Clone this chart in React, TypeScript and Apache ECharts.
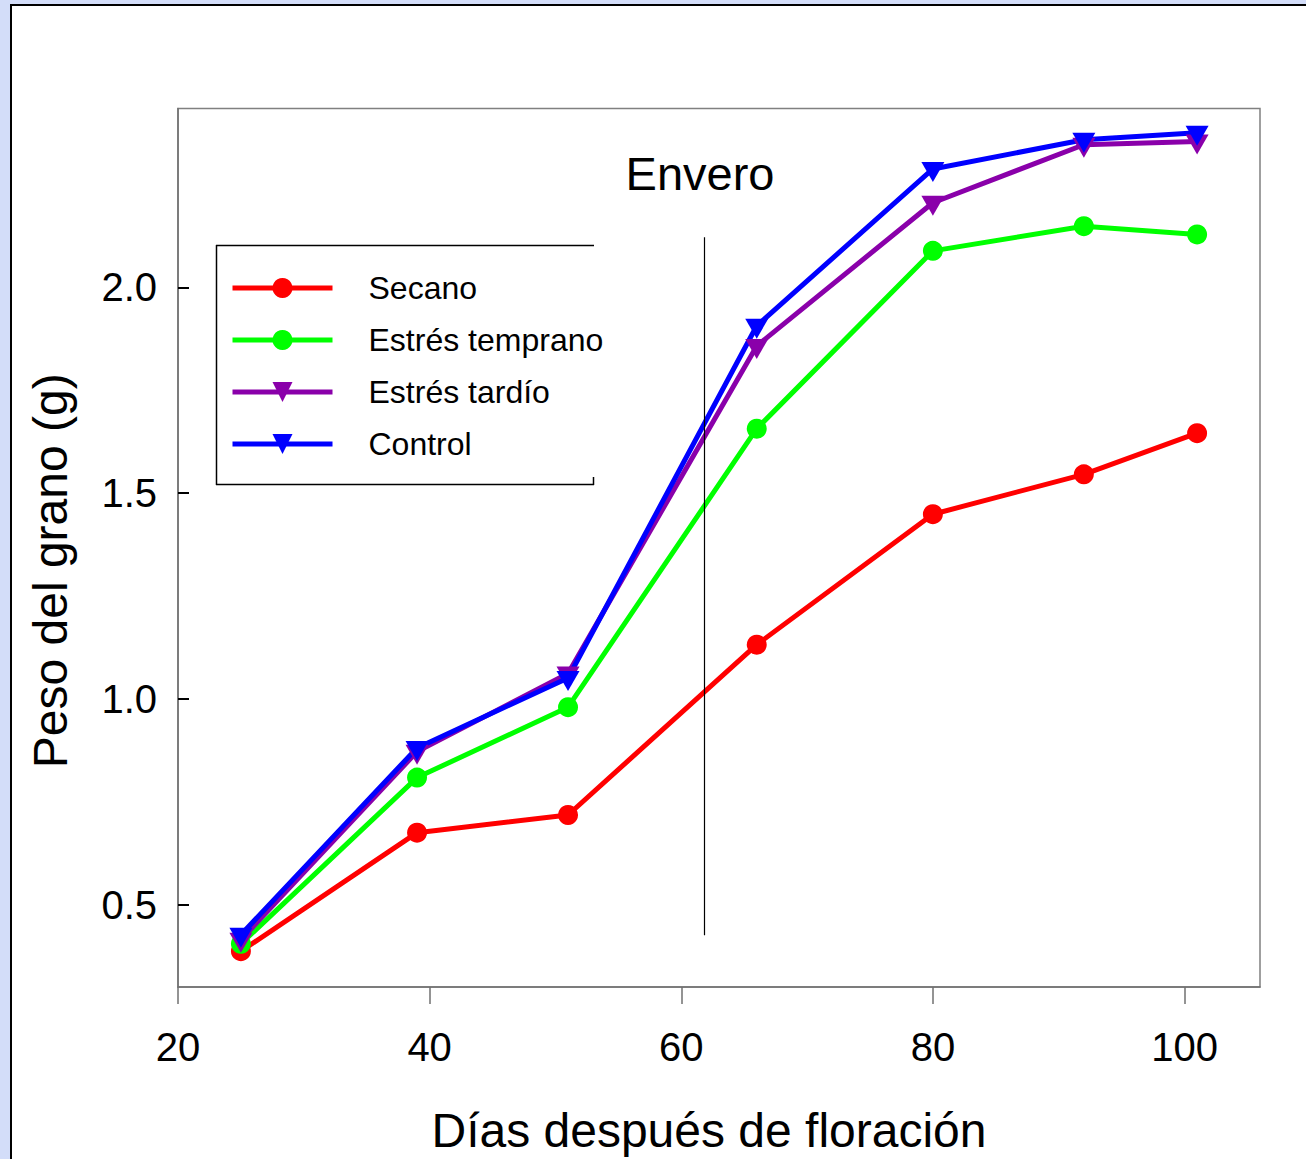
import React, { useEffect, useRef } from "react";
import * as echarts from "echarts";

const dias = [25, 39, 51, 66, 80, 92, 101];
const secano = [0.387, 0.675, 0.718, 1.132, 1.449, 1.546, 1.646];
const estresTemprano = [0.405, 0.809, 0.98, 1.657, 2.089, 2.149, 2.129];
const estresTardio = [0.415, 0.872, 1.062, 1.858, 2.206, 2.347, 2.355];
const control = [0.427, 0.881, 1.051, 1.907, 2.288, 2.359, 2.376];

const xTicks = [20, 40, 60, 80, 100];
const yTicks = [0.5, 1.0, 1.5, 2.0];
const enveroDia = 61.8;
const enveroRange = [0.426, 2.122];

const FONT = "'Liberation Sans', Arial, Helvetica, sans-serif";

function pairs(ys: number[]) {
  return dias.map((d, i) => [d, ys[i]]);
}

export default function App() {
  const ref = useRef<HTMLDivElement>(null);
  useEffect(() => {
    if (!ref.current) return;
    const chart = echarts.init(ref.current, undefined, { renderer: "svg" });
    const circle = { symbol: "circle", symbolSize: 20 };
    const tri = { symbol: "triangle", symbolRotate: 180, symbolSize: [23, 20], symbolOffset: [0, 3] };
    const mk = (name: string, color: string, ys: number[], sym: any, extra: any = {}) => ({
      name,
      type: "line",
      data: pairs(ys),
      ...sym,
      lineStyle: { color, width: 5 },
      itemStyle: { color },
      ...extra,
    });
    chart.setOption({
      animation: false,
      backgroundColor: "#ffffff",
      grid: {
        show: true,
        left: 178,
        top: 108.5,
        width: 1082,
        height: 882,
        borderColor: "#808080",
        borderWidth: 1.5,
      },
      xAxis: {
        type: "value",
        min: 20,
        max: 106,
        name: "Días después de floración",
        nameLocation: "middle",
        nameGap: 119,
        nameTextStyle: { fontSize: 48, fontFamily: FONT, color: "#000", padding: [0, 20, 0, 0] },
        splitLine: { show: false },
        axisLine: { show: true, lineStyle: { color: "#707070", width: 1.5 } },
        axisTick: {
          show: true,
          inside: false,
          length: 17,
          customValues: xTicks,
          lineStyle: { color: "#707070", width: 1.5 },
        },
        axisLabel: {
          customValues: xTicks,
          fontSize: 40,
          fontFamily: FONT,
          color: "#000",
          margin: 40,
        },
      },
      yAxis: {
        type: "value",
        min: 0.3,
        max: 2.435,
        name: "Peso del grano (g)",
        nameLocation: "middle",
        nameGap: 104,
        nameRotate: 90,
        nameTextStyle: { fontSize: 48, fontFamily: FONT, color: "#000", padding: [0, 46, 0, 0] },
        splitLine: { show: false },
        axisLine: { show: true, lineStyle: { color: "#707070", width: 1.5 } },
        axisTick: {
          show: true,
          inside: true,
          length: 11,
          customValues: yTicks,
          lineStyle: { color: "#000", width: 2 },
        },
        axisLabel: {
          customValues: yTicks,
          fontSize: 40,
          fontFamily: FONT,
          color: "#000",
          margin: 21,
          formatter: (v: number) => v.toFixed(1),
        },
      },
      legend: {
        orient: "vertical",
        left: 230,
        top: 272,
        padding: 0,
        itemWidth: 100,
        itemHeight: 25,
        itemGap: 20,
        selectedMode: false,
        lineStyle: { width: 5 },
        textStyle: {
          fontSize: 32,
          fontFamily: FONT,
          color: "#000",
          padding: [0, 0, 0, 31],
        },
        data: ["Secano", "Estrés temprano", "Estrés tardío", "Control"],
      },
      series: [
        mk("Secano", "#ff0000", secano, circle, {
          markLine: {
            silent: true,
            symbol: ["none", "none"],
            label: { show: false },
            lineStyle: { color: "#000", width: 1.2, type: "solid" },
            data: [[{ coord: [enveroDia, enveroRange[0]] }, { coord: [enveroDia, enveroRange[1]] }]],
          },
        }),
        mk("Estrés temprano", "#00ff00", estresTemprano, circle),
        mk("Estrés tardío", "#8a00aa", estresTardio, tri),
        mk("Control", "#0000ff", control, tri),
      ],
      graphic: [
        { type: "rect", shape: { x: 0, y: 0, width: 1306, height: 4 }, style: { fill: "#d3ddf9" }, silent: true },
        { type: "rect", shape: { x: 0, y: 0, width: 10, height: 1159 }, style: { fill: "#d3ddf9" }, silent: true },
        { type: "line", shape: { x1: 10, y1: 5, x2: 1306, y2: 5 }, style: { stroke: "#000", lineWidth: 2 }, silent: true },
        { type: "line", shape: { x1: 11, y1: 4, x2: 11, y2: 1159 }, style: { stroke: "#000", lineWidth: 2 }, silent: true },
        { type: "line", shape: { x1: 216, y1: 245.5, x2: 594, y2: 245.5 }, style: { stroke: "#000", lineWidth: 1.5 }, silent: true },
        { type: "line", shape: { x1: 216.5, y1: 245, x2: 216.5, y2: 485 }, style: { stroke: "#000", lineWidth: 1.5 }, silent: true },
        { type: "line", shape: { x1: 216, y1: 484.5, x2: 594, y2: 484.5 }, style: { stroke: "#000", lineWidth: 1.5 }, silent: true },
        { type: "line", shape: { x1: 593.5, y1: 477, x2: 593.5, y2: 485 }, style: { stroke: "#000", lineWidth: 1.5 }, silent: true },
        {
          type: "text",
          x: 700,
          y: 173,
          style: {
            text: "Envero",
            fontSize: 47,
            fontFamily: FONT,
            fill: "#000",
            textAlign: "center",
            textVerticalAlign: "middle",
          },
          silent: true,
        },
      ],
    });
    return () => chart.dispose();
  }, []);
  return (
    <div
      ref={ref}
      style={{ position: "fixed", left: 0, top: 0, width: 1306, height: 1159, background: "#fff" }}
    />
  );
}
